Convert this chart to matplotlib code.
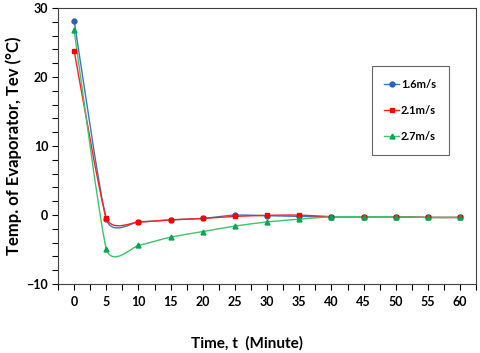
import matplotlib
matplotlib.use("Agg")
import matplotlib.pyplot as plt
import numpy as np
from matplotlib.path import Path
from matplotlib.patches import PathPatch

plt.rcParams["font.family"] = ["Lato", "DejaVu Sans"]
plt.rcParams["font.weight"] = "bold"

time_min = [0, 5, 10, 15, 20, 25, 30, 35, 40, 45, 50, 55, 60]
tev_16 = [28.2, -0.6, -1.0, -0.7, -0.5, 0.0, -0.1, -0.2, -0.25, -0.25, -0.25, -0.35, -0.35]
tev_21 = [23.8, -0.4, -1.0, -0.7, -0.5, -0.2, -0.05, 0.0, -0.25, -0.25, -0.25, -0.35, -0.35]
tev_27 = [26.8, -4.9, -4.4, -3.2, -2.4, -1.6, -1.0, -0.6, -0.25, -0.25, -0.25, -0.35, -0.35]
labels = ["1.6m/s", "2.1m/s", "2.7m/s"]


def smooth_path(x, y, k=0.09):
    # Excel-like smoothed line as cubic Bezier segments
    p = np.column_stack([x, y]).astype(float)
    n = len(p)
    verts = [p[0]]
    codes = [Path.MOVETO]
    for i in range(n - 1):
        prev = p[i - 1] if i > 0 else p[i]
        nxt2 = p[i + 2] if i + 2 < n else p[i + 1]
        c1 = p[i] + (p[i + 1] - prev) * k
        c2 = p[i + 1] - (nxt2 - p[i]) * k
        verts += [c1, c2, p[i + 1]]
        codes += [Path.CURVE4] * 3
    return Path(verts, codes)


fig = plt.figure(figsize=(4.8, 3.53), dpi=100)
ax = fig.add_axes([0.121, 0.1955, 0.871, 0.7815])

series = [
    (tev_16, "#4472C4", "#2E5FA8", "o", 3.5),
    (tev_21, "#FF2020", "#FF0000", "s", 3.5),
    (tev_27, "#3CC46E", "#00A84F", "^", 3.5),
]
for (vals, lc, mc, mk, ms), lab in zip(series, labels):
    ax.add_patch(PathPatch(smooth_path(time_min, vals), facecolor="none",
                           edgecolor=lc, lw=1.0))
    ax.plot(time_min, vals, ls="none", marker=mk, ms=ms, color=mc)
    ax.plot([], [], color=lc, lw=1.0, marker=mk, ms=ms, mfc=mc, mec=mc, label=lab)

ax.set_xlim(-2.5, 62.5)
ax.set_ylim(-10, 30)
ax.set_xticks(time_min)
ax.set_xticks(np.arange(-2.5, 63, 5), minor=True)
ax.set_yticks([-10, 0, 10, 20, 30])
ax.set_yticks(np.arange(-10, 31, 2), minor=True)
ax.tick_params(axis="both", which="both", direction="out", length=4, width=0.8,
               labelsize=9, pad=3)
ax.tick_params(axis="x", which="major", pad=5)
for lbl in ax.get_xticklabels() + ax.get_yticklabels():
    lbl.set_fontweight("bold")
for s in ax.spines.values():
    s.set_linewidth(0.8)
    s.set_color("#404040")

ax.set_xlabel("Time, t  (Minute)", fontsize=11, fontweight="bold")
ax.xaxis.set_label_coords(0.452, -0.19)
ax.set_ylabel("Temp. of Evaporator, Tev (\u00b0C)", fontsize=12, fontweight="bold", labelpad=3)

leg = ax.legend(loc="upper right", bbox_to_anchor=(0.935, 0.79), fontsize=8,
                frameon=True, fancybox=False, edgecolor="#404040",
                labelspacing=1.35, handlelength=1.3, handletextpad=0.2,
                borderpad=1.15, borderaxespad=0)
leg.get_frame().set_linewidth(0.8)
for t in leg.get_texts():
    t.set_fontweight("bold")

fig.savefig("out.png", dpi=100)
